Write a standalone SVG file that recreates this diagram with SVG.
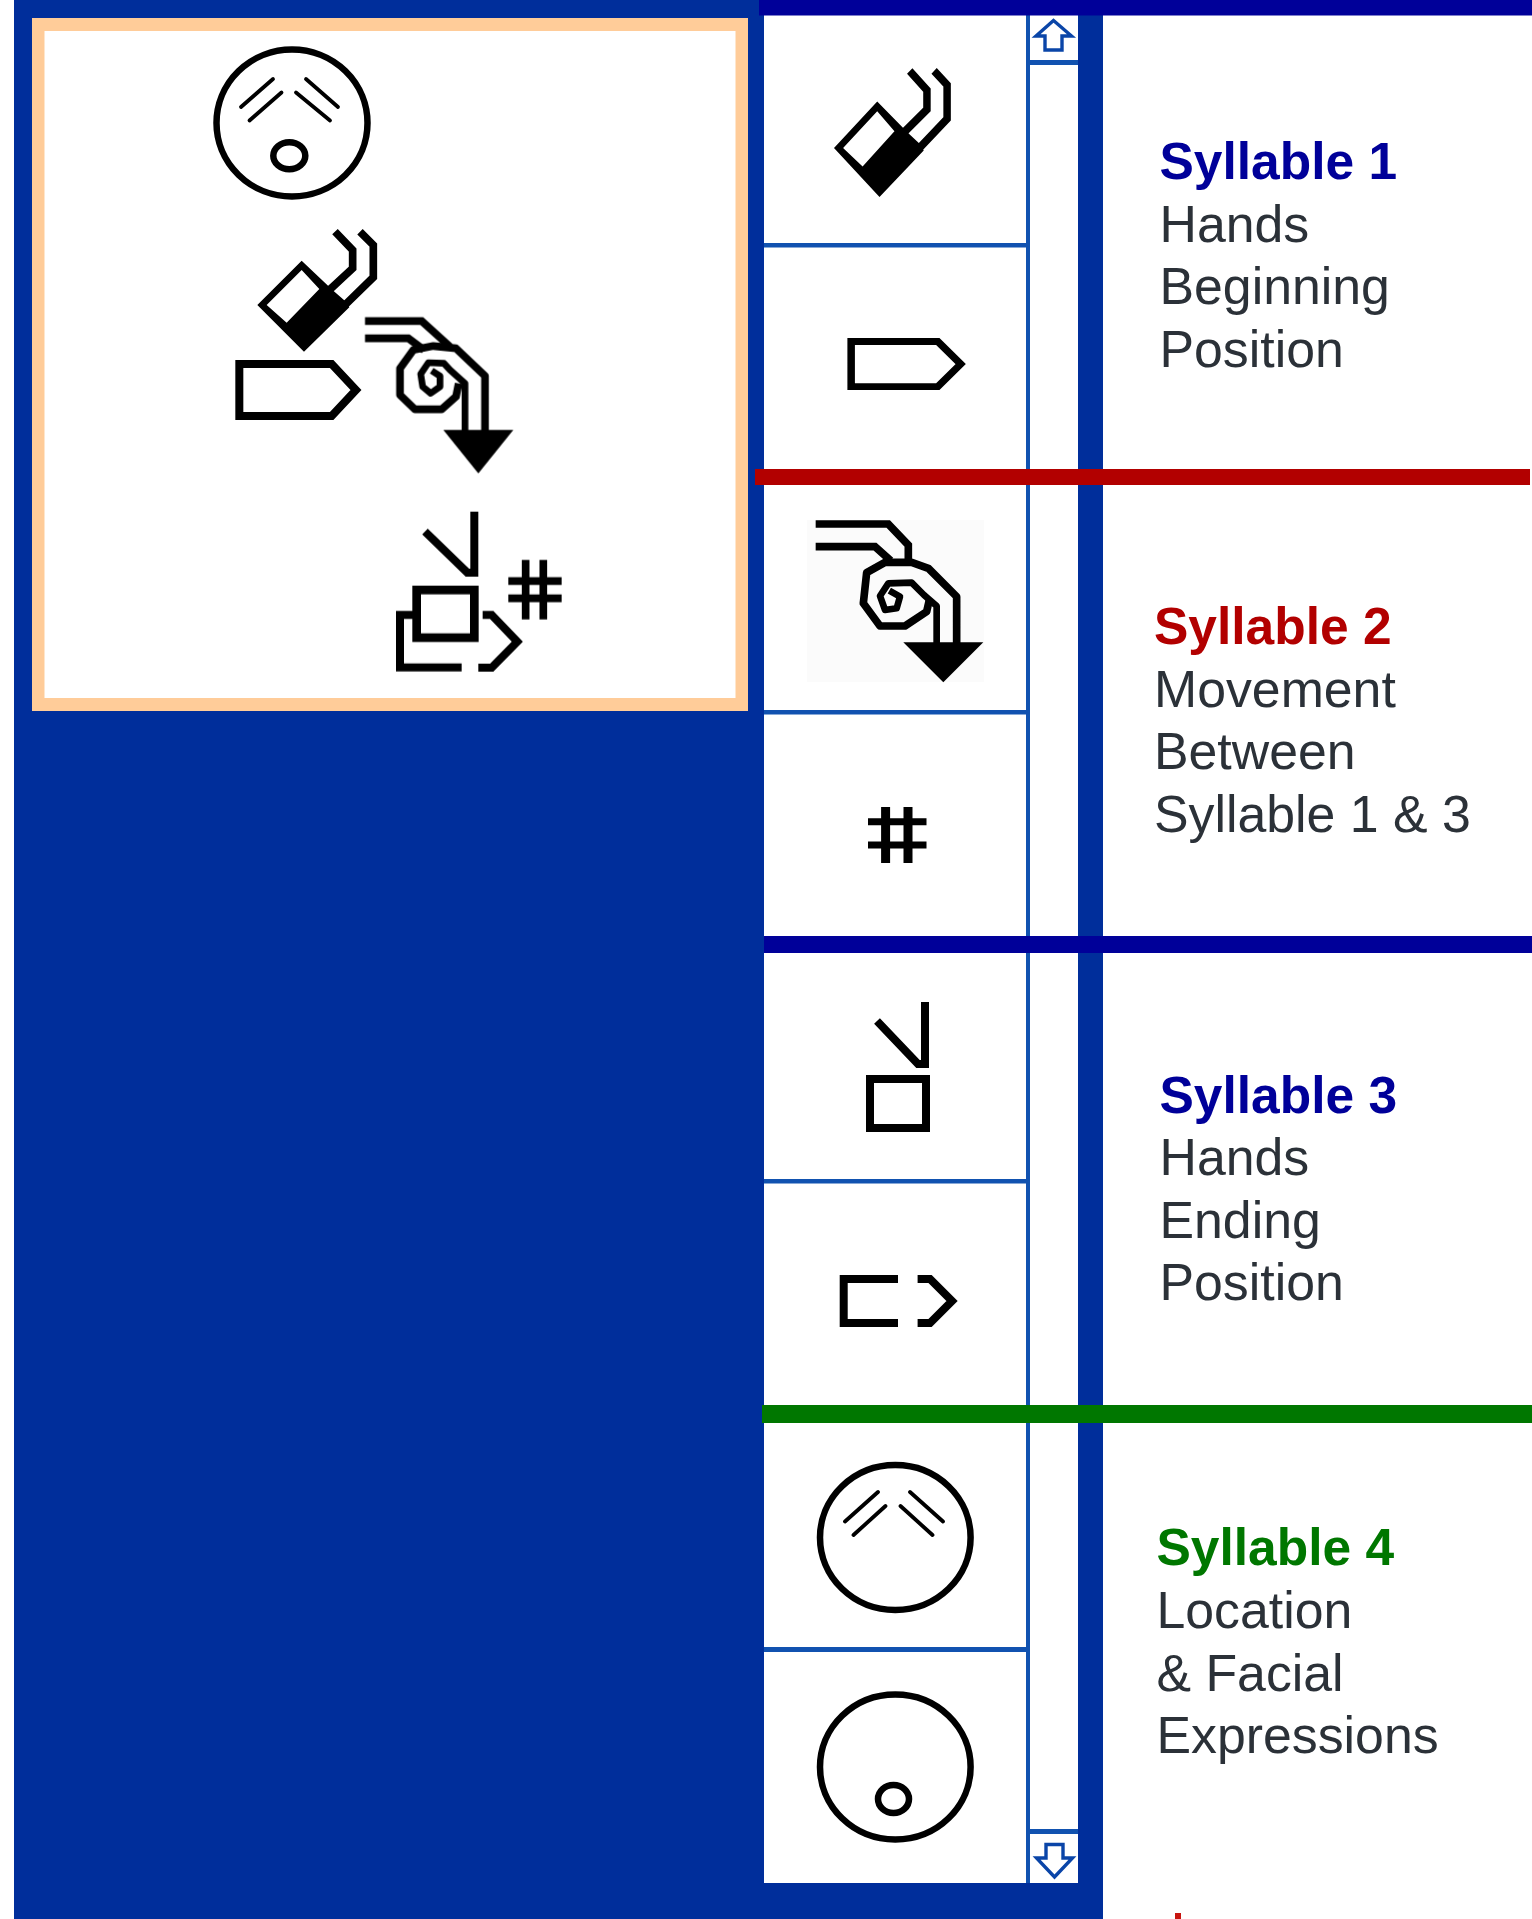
<svg xmlns="http://www.w3.org/2000/svg" width="1532" height="1919" viewBox="0 0 1532 1919">
<style>
.g{fill:none;stroke:#000;stroke-linejoin:miter;stroke-linecap:butt}
.b{stroke-width:23}
.r{stroke-linejoin:round}
.f{fill:#000;stroke:none}
.face{fill:none;stroke:#000;stroke-width:6.500}
.brow{fill:none;stroke:#000;stroke-width:3.800;stroke-linecap:round}
.thin{fill:#1152b0}
.arr{fill:none;stroke:#0a45a8;stroke-width:3.400;stroke-linejoin:miter}
.soft{filter:url(#soft)}
text{font-family:"Liberation Sans",Arial,Helvetica,sans-serif;font-size:51.800px;fill:#2b3138}
.h{font-weight:bold;font-size:51.500px}
</style>
<defs>
<filter id="soft" x="-10%" y="-10%" width="120%" height="120%"><feGaussianBlur stdDeviation="0.600"/></filter>
<g id="hand">
<path class="f" fill-rule="evenodd" d="M112 255L245 122L340 212L378 245L388 262L252 395ZM140 255L200 308L298 207L245 150Z"/>
<polyline class="g b" points="345,35 398,90 398,145 330,208"/>
<polyline class="g b" points="420,35 460,75 460,172 365,265"/>
</g>
<polygon id="tag" class="g" stroke-width="24" points="58,432 335,432 408,510 335,588 58,588"/>
</defs>

<rect x="0" y="0" width="1532" height="1919" fill="#fff"/>
<rect x="14" y="0" width="750" height="1919" fill="#002e9b"/>
<rect x="764" y="0" width="339" height="1919" fill="#002e9b"/>

<g id="panel">
<rect x="32" y="18" width="716" height="693" fill="#ffcc99"/>
<rect x="44.500" y="31" width="691" height="667" fill="#fff"/>
</g>

<g id="composite-sign" class="soft">
<g id="composite-face">
<ellipse class="face" cx="292" cy="123" rx="75.500" ry="73.500"/>
<path class="brow" d="M241 107L273 79M249.500 120.500L281.500 92.500M306 79L338 107M296 92.500L330 120.500"/>
<ellipse class="face" cx="289.300" cy="155.700" rx="16" ry="13.500"/>
</g>
<use href="#hand" transform="translate(220 220) scale(.3333)"/>
<use href="#tag" transform="translate(220 220) scale(.3333)"/>
<g id="composite-move" transform="translate(220 220) scale(.3333)">
<polyline class="g b" points="435,303 605,303 690,380"/>
<polyline class="g b" points="435,355 565,355 612,390"/>
<polyline class="g b r" points="795,635 795,468 708,385 640,378 580,390 540,445 540,525 585,568 665,568 708,530 716,490"/>
<polyline class="g r" stroke-width="20" points="735,635 735,490 690,450 672,430 625,428 602,462 608,500 632,520 660,500 660,468 635,452"/>
<polygon class="f" points="670,630 880,630 775,760"/>
</g>
<g id="composite-end" transform="translate(380 500) scale(.3333)">
<polyline class="g" stroke-width="24" points="135,95 262,218 283,218 283,35"/>
<rect class="g" stroke-width="26" x="110" y="270" width="173" height="143"/>
<polyline class="g" stroke-width="24" points="245,502 60,502 60,345 100,345"/>
<polyline class="g" stroke-width="24" points="308,345 335,345 412,425 335,503 295,503"/>
<path class="g b" d="M437 180V358M490 180V358M385 243H545M385 295H545"/>
</g>
</g>

<g id="scroll-table">
<rect x="764" y="15" width="262" height="1868" fill="#fff"/>
<rect class="thin" x="1026" y="15" width="4" height="1868"/>
<rect x="1030" y="15" width="48" height="1868" fill="#fff"/>
<rect class="thin" x="764" y="243" width="262" height="4.500"/>
<rect class="thin" x="764" y="710" width="262" height="4.500"/>
<rect class="thin" x="764" y="1179" width="262" height="4.500"/>
<rect class="thin" x="764" y="1647" width="262" height="5"/>
<rect class="thin" x="1030" y="60" width="48" height="5"/>
<rect class="thin" x="1030" y="1829" width="48" height="5"/>
<polygon class="arr" points="1053.500,20.500 1071.500,36 1062,36 1062,50 1045,50 1045,36 1036,36"/>
<polygon class="arr" points="1046,1844.500 1063,1844.500 1063,1858 1072.500,1858 1054.500,1877 1036.500,1858 1046,1858"/>
</g>

<g id="cell-hand-start" class="soft"><use href="#hand" transform="translate(797.600 58.700) scale(.325 .35)"/></g>
<g id="cell-tag-start" class="soft"><use href="#tag" transform="translate(833 216.700) scale(.313 .289)"/></g>
<g id="cell-move">
<rect x="807" y="520" width="177" height="162" fill="#fbfbfb"/>
<g class="soft" transform="translate(800 500) scale(.3333)">
<polyline class="g b" points="47,72 265,72 325,135 325,185"/>
<polyline class="g b" points="47,140 225,140 272,182"/>
<polyline class="g b r" points="470,430 470,290 385,205 335,187 255,187 200,218 190,310 240,378 315,378 380,335 388,300"/>
<polyline class="g r" stroke-width="20" points="410,430 410,318 372,285 335,248 265,250 240,288 255,330 290,325 300,290 268,272"/>
<polygon class="f" points="310,427 550,427 430,547"/>
</g>
</g>
<g id="cell-hash" class="soft">
<path class="g" stroke-width="9" d="M885.600 807V863M908 807V863"/>
<path class="g" stroke-width="7" d="M868 821.700H926.500M868 845H926.500"/>
</g>
<g id="cell-hand-end" class="soft">
<polyline class="g" stroke-width="8" points="877,1021 918,1064 925,1064 925,1002"/>
<rect class="g" stroke-width="8" x="870" y="1079" width="56" height="49"/>
</g>
<g id="cell-tag-end" class="soft">
<polyline class="g" stroke-width="8" points="898,1279 843.700,1279 843.700,1323 898,1323"/>
<polyline class="g" stroke-width="8" points="917.600,1279 930,1279 952,1301 930,1323 917.600,1323"/>
</g>
<g id="cell-face-brows" class="soft">
<ellipse class="face" cx="895.300" cy="1537.500" rx="75.300" ry="72.500"/>
<path class="brow" d="M845 1521.500L878 1492M853.500 1535L885.500 1506M910 1492L943 1521.500M900.500 1506L932.500 1535"/>
</g>
<g id="cell-face-mouth" class="soft">
<ellipse class="face" cx="895.300" cy="1767" rx="75.300" ry="72.500"/>
<ellipse class="face" cx="893.500" cy="1799" rx="15.500" ry="14"/>
</g>

<g id="dividers">
<rect x="759" y="0" width="773" height="15.500" fill="#000099"/>
<rect x="755" y="469" width="775" height="16" fill="#b20000"/>
<rect x="764" y="936" width="768" height="17" fill="#000099"/>
<rect x="762" y="1405" width="770" height="18" fill="#007700"/>
</g>

<g id="syllable-1">
<text class="h" x="1159.500" y="179" style="fill:#000099">Syllable 1</text>
<text x="1159.500" y="242">Hands</text>
<text x="1159.500" y="304">Beginning</text>
<text x="1159.500" y="367">Position</text>
</g>
<g id="syllable-2">
<text class="h" x="1154" y="644" style="fill:#b20000">Syllable 2</text>
<text x="1154" y="707">Movement</text>
<text x="1154" y="769">Between</text>
<text x="1154" y="832">Syllable 1 &amp; 3</text>
</g>
<g id="syllable-3">
<text class="h" x="1159.500" y="1113" style="fill:#000099">Syllable 3</text>
<text x="1159.500" y="1175">Hands</text>
<text x="1159.500" y="1238">Ending</text>
<text x="1159.500" y="1300">Position</text>
</g>
<g id="syllable-4">
<text class="h" x="1156.500" y="1565" style="fill:#007700">Syllable 4</text>
<text x="1156.500" y="1628">Location</text>
<text x="1156.500" y="1691">&amp; Facial</text>
<text x="1156.500" y="1753">Expressions</text>
</g>
<rect id="clipped-mark" x="1175" y="1913" width="6" height="6" fill="#c8140f"/>
</svg>
